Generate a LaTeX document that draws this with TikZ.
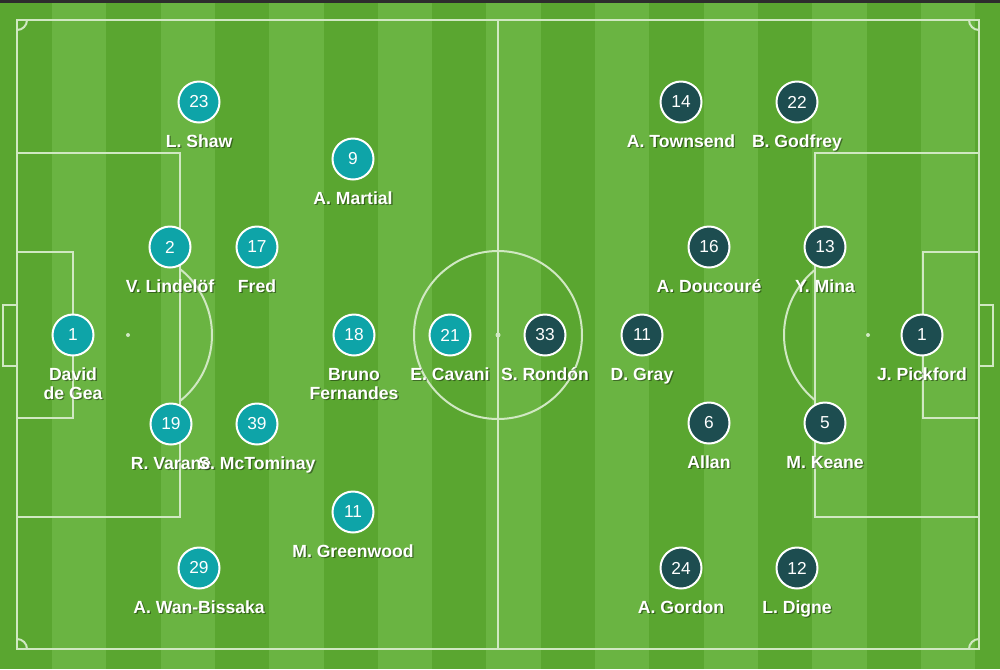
\documentclass[tikz,border=0pt]{standalone}
\usepackage{fontspec}
\setmainfont{Liberation Sans}
\definecolor{gdark}{RGB}{90,166,48}
\definecolor{glight}{RGB}{106,180,66}
\definecolor{linec}{RGB}{208,232,194}
\definecolor{manu}{RGB}{14,164,168}
\definecolor{evert}{RGB}{29,77,80}
\definecolor{topbar}{RGB}{45,45,45}
\setlength{\tabcolsep}{0pt}
\tikzset{
  player/.style={circle, draw=white, line width=1.5pt, minimum size=30.75pt, inner sep=0pt,
    text=white, font=\fontsize{13pt}{15pt}\selectfont},
  pname/.style={anchor=base, inner sep=0pt, font=\fontsize{13.2pt}{14.25pt}\selectfont\bfseries},
  fieldline/.style={draw=linec, line width=1.5pt},
}
\newcommand\pl[6]{%
  \node[player, fill=#4] (#1) at (#2,#3) {#5};
  \node[pname, text=black, opacity=0.4] (#1s) at (#2+1.3,#3+46.5) {\begin{tabular}[t]{c}#6\end{tabular}};
  \node[pname, text=white] (#1n) at (#2,#3+45) {\begin{tabular}[t]{c}#6\end{tabular}};
}
\begin{document}
\begin{tikzpicture}[x=0.75pt,y=-0.75pt]
\useasboundingbox (0,0) rectangle (1000,669);
% stripes
\foreach \k in {0,...,18}{
  \pgfmathsetmacro\xa{-2.3+54.3*\k}
  \pgfmathsetmacro\xb{-2.3+54.3*(\k+1)}
  \pgfmathtruncatemacro\odd{mod(\k,2)}
  \ifnum\odd=1
    \fill[glight] (\xa,0) rectangle (\xb,669);
  \else
    \fill[gdark] (\xa,0) rectangle (\xb,669);
  \fi
}
\fill[topbar] (0,0) rectangle (1000,2.5);
% field lines
\draw[fieldline] (17,20) rectangle (979,649);
\draw[fieldline] (498,20) -- (498,649);
\draw[fieldline] (498,335) circle[radius=84];
\fill[linec] (498,335) circle[radius=2.5];
\draw[fieldline] (17,153) rectangle (180,517);
\draw[fieldline] (17,252) rectangle (73,418);
\draw[fieldline] (3,305) rectangle (17,366);
\fill[linec] (128,335) circle[radius=2];
\draw[fieldline] (815,153) rectangle (979,517);
\draw[fieldline] (923,252) rectangle (979,418);
\draw[fieldline] (979,305) rectangle (993,366);
\fill[linec] (868,335) circle[radius=2];
\begin{scope}
  \clip (180,0) rectangle (400,669);
  \draw[fieldline] (128,335) circle[radius=84];
\end{scope}
\begin{scope}
  \clip (600,0) rectangle (815,669);
  \draw[fieldline] (868,335) circle[radius=84];
\end{scope}
\begin{scope}
  \clip (17,20) rectangle (979,649);
  \draw[fieldline] (17,20) circle[radius=10];
  \draw[fieldline] (979,20) circle[radius=10];
  \draw[fieldline] (17,649) circle[radius=10];
  \draw[fieldline] (979,649) circle[radius=10];
\end{scope}
% Manchester United
\pl{m23}{199}{102}{manu}{23}{L. Shaw}
\pl{m9}{353}{159}{manu}{9}{A. Martial}
\pl{m2}{170}{247}{manu}{2}{V. Lindelöf}
\pl{m17}{257}{247}{manu}{17}{Fred}
\pl{m1}{73}{335}{manu}{1}{David\\de Gea}
\pl{m18}{354}{335}{manu}{18}{Bruno\\Fernandes}
\pl{m21}{450}{335}{manu}{21}{E. Cavani}
\pl{m19}{171}{424}{manu}{19}{R. Varane}
\pl{m39}{257}{424}{manu}{39}{S. McTominay}
\pl{m11}{353}{512}{manu}{11}{M. Greenwood}
\pl{m29}{199}{568}{manu}{29}{A. Wan-Bissaka}
% Everton
\pl{e14}{681}{102}{evert}{14}{A. Townsend}
\pl{e22}{797}{102}{evert}{22}{B. Godfrey}
\pl{e16}{709}{247}{evert}{16}{A. Doucouré}
\pl{e13}{825}{247}{evert}{13}{Y. Mina}
\pl{e33}{545}{335}{evert}{33}{S. Rondón}
\pl{e11}{642}{335}{evert}{11}{D. Gray}
\pl{e1}{922}{335}{evert}{1}{J. Pickford}
\pl{e6}{709}{423}{evert}{6}{Allan}
\pl{e5}{825}{423}{evert}{5}{M. Keane}
\pl{e24}{681}{568}{evert}{24}{A. Gordon}
\pl{e12}{797}{568}{evert}{12}{L. Digne}
\end{tikzpicture}
\end{document}
